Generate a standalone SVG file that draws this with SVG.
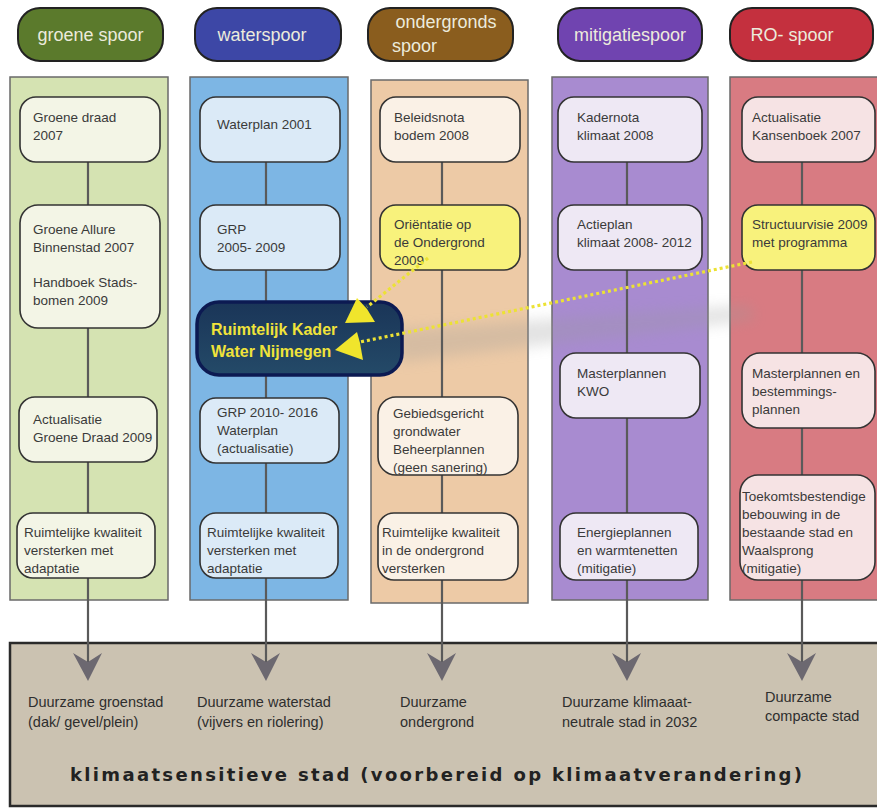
<svg xmlns="http://www.w3.org/2000/svg" width="877" height="808" viewBox="0 0 877 808">
<defs>
<style>
.hdr{stroke:#222;stroke-width:2}
.hdrt{font-family:"Liberation Sans",Arial,sans-serif;font-size:18px;fill:#ecebdc}
.panel{stroke:#6a6a6a;stroke-width:1.5}
.node{stroke:#333;stroke-width:1.6}
.t{font-family:"Liberation Sans",Arial,sans-serif;font-size:13.5px;fill:#3a3a3a}
.bt{font-family:"Liberation Sans",Arial,sans-serif;font-size:14.5px;fill:#2e2e2e}
.ln{stroke:#5a5a5a;stroke-width:2.2;fill:none}
.dot{stroke:#ece234;stroke-width:3.2;stroke-dasharray:3 3;fill:none}
.yarr{fill:#f0e52c}
.garr{fill:#6c6870}
</style>
<linearGradient id="dk" x1="0" y1="0" x2="0" y2="1">
<stop offset="0" stop-color="#1a3558"/>
<stop offset="1" stop-color="#244a68"/>
</linearGradient>
<filter id="blur" x="-20%" y="-80%" width="140%" height="260%"><feGaussianBlur stdDeviation="7"/></filter>
</defs>
<rect width="877" height="808" fill="#fff"/>

<!-- headers -->
<g id="h-groen"><rect class="hdr" x="18" y="8" width="145" height="53" rx="22" fill="#5b7a2c"/><text class="hdrt" x="90.5" y="41" text-anchor="middle">groene spoor</text></g>
<g id="h-water"><rect class="hdr" x="195" y="8" width="146" height="53" rx="22" fill="#3d47a6"/><text class="hdrt" x="262" y="41" text-anchor="middle">waterspoor</text></g>
<g id="h-onder"><rect class="hdr" x="368" y="8" width="145" height="53" rx="22" fill="#8a5d1e"/><text class="hdrt" x="446" y="28" text-anchor="middle">ondergronds</text><text class="hdrt" x="392" y="52">spoor</text></g>
<g id="h-mitig"><rect class="hdr" x="558" y="8" width="144" height="53" rx="22" fill="#7044b0"/><text class="hdrt" x="630" y="41" text-anchor="middle">mitigatiespoor</text></g>
<g id="h-ro"><rect class="hdr" x="730" y="8" width="143" height="53" rx="22" fill="#c4303e"/><text class="hdrt" x="792" y="41" text-anchor="middle">RO- spoor</text></g>

<!-- column panels -->
<g id="panels">
<rect class="panel" x="10" y="77" width="158" height="523" fill="#d5e3b2"/>
<rect class="panel" x="190" y="77" width="158" height="523" fill="#7db6e4"/>
<rect class="panel" x="371" y="80" width="157" height="523" fill="#edcaa6"/>
<rect class="panel" x="552" y="77" width="156" height="523" fill="#a88bd0"/>
<rect class="panel" x="730" y="77" width="150" height="523" fill="#d87b82"/>
</g>

<!-- bottom panel -->
<g id="bottom">
<rect x="10" y="643" width="870" height="163" fill="#cbc2b1" stroke="#2a2a2a" stroke-width="2.5"/>
<text class="bt" x="28" y="707">Duurzame groenstad</text>
<text class="bt" x="28" y="727">(dak/ gevel/plein)</text>
<text class="bt" x="197" y="707">Duurzame waterstad</text>
<text class="bt" x="197" y="727">(vijvers en riolering)</text>
<text class="bt" x="400" y="707">Duurzame</text>
<text class="bt" x="400" y="727">ondergrond</text>
<text class="bt" x="562" y="707">Duurzame klimaaat-</text>
<text class="bt" x="562" y="727">neutrale stad in 2032</text>
<text class="bt" x="765" y="702">Duurzame</text>
<text class="bt" x="765" y="721">compacte stad</text>
<text x="70" y="781" textLength="732" lengthAdjust="spacing" style="font-family:'DejaVu Sans',Verdana,sans-serif;font-size:18px;font-weight:bold;fill:#222">klimaatsensitieve stad (voorbereid op klimaatverandering)</text>
</g>

<!-- shadow under the dark box / dotted line -->
<path d="M395,330 L750,305 L755,320 L400,362 Z" fill="#9a9a9a" opacity="0.28" filter="url(#blur)"/>

<!-- connectors -->
<g id="connectors">
<path class="ln" d="M88,162V205M88,328V397M88,462V513M88,578V664"/>
<path class="ln" d="M266,162V205M266,270V302M266,375V398M266,463V513M266,578V664"/>
<path class="ln" d="M442,162V205M442,270V397M442,475V513M442,580V664"/>
<path class="ln" d="M627,162V205M627,270V353M627,418V513M627,580V664"/>
<path class="ln" d="M802,162V205M802,270V353M802,428V475M802,580V664"/>
<path class="garr" d="M88,681 L73,653 L88,662 L102,653 Z"/>
<path class="garr" d="M266,681 L251,653 L266,662 L280,653 Z"/>
<path class="garr" d="M442,681 L427,653 L442,662 L456,653 Z"/>
<path class="garr" d="M627,681 L612,653 L627,662 L641,653 Z"/>
<path class="garr" d="M802,681 L787,653 L802,662 L816,653 Z"/>
</g>

<!-- green nodes -->
<g id="n-groene-draad"><rect class="node" x="20" y="97" width="140" height="65" rx="16" fill="#f3f5e6"/><text class="t" x="33" y="122">Groene draad</text><text class="t" x="33" y="140">2007</text></g>
<g id="n-groene-allure"><rect class="node" x="20" y="205" width="140" height="123" rx="18" fill="#f3f5e6"/><text class="t" x="33" y="234">Groene Allure</text><text class="t" x="33" y="252">Binnenstad 2007</text><text class="t" x="33" y="287">Handboek Stads-</text><text class="t" x="33" y="305">bomen 2009</text></g>
<g id="n-act-groen"><rect class="node" x="19" y="397" width="138" height="65" rx="16" fill="#f3f5e6"/><text class="t" x="33" y="424">Actualisatie</text><text class="t" x="33" y="442">Groene Draad 2009</text></g>
<g id="n-rk-groen"><rect class="node" x="17" y="513" width="138" height="65" rx="16" fill="#f3f5e6"/><text class="t" x="24" y="537">Ruimtelijke kwaliteit</text><text class="t" x="24" y="555">versterken met</text><text class="t" x="24" y="573">adaptatie</text></g>

<!-- blue nodes -->
<g id="n-waterplan"><rect class="node" x="200" y="97" width="140" height="65" rx="16" fill="#dbeaf7"/><text class="t" x="217" y="129">Waterplan 2001</text></g>
<g id="n-grp"><rect class="node" x="200" y="205" width="140" height="65" rx="16" fill="#dbeaf7"/><text class="t" x="217" y="234">GRP</text><text class="t" x="217" y="252">2005- 2009</text></g>
<g id="n-grp2010"><rect class="node" x="200" y="398" width="139" height="65" rx="16" fill="#dbeaf7"/><text class="t" x="217" y="417">GRP 2010- 2016</text><text class="t" x="217" y="435">Waterplan</text><text class="t" x="217" y="453">(actualisatie)</text></g>
<g id="n-rk-water"><rect class="node" x="200" y="513" width="138" height="65" rx="16" fill="#dbeaf7"/><text class="t" x="207" y="537">Ruimtelijke kwaliteit</text><text class="t" x="207" y="555">versterken met</text><text class="t" x="207" y="573">adaptatie</text></g>

<!-- brown nodes -->
<g id="n-beleidsnota"><rect class="node" x="380" y="97" width="140" height="65" rx="16" fill="#faf1e6"/><text class="t" x="394" y="122">Beleidsnota</text><text class="t" x="394" y="140">bodem 2008</text></g>
<g id="n-orientatie"><rect class="node" x="380" y="205" width="140" height="65" rx="16" fill="#f8f27c"/><text class="t" x="394" y="229">Oriëntatie op</text><text class="t" x="394" y="247">de Ondergrond</text><text class="t" x="394" y="265">2009</text></g>
<g id="n-gebied"><rect class="node" x="378" y="397" width="140" height="78" rx="18" fill="#faf1e6"/><text class="t" x="393" y="418">Gebiedsgericht</text><text class="t" x="393" y="436">grondwater</text><text class="t" x="393" y="454">Beheerplannen</text><text class="t" x="393" y="472">(geen sanering)</text></g>
<g id="n-rk-onder"><rect class="node" x="378" y="513" width="140" height="67" rx="16" fill="#faf1e6"/><text class="t" x="382" y="537">Ruimtelijke kwaliteit</text><text class="t" x="382" y="555">in de ondergrond</text><text class="t" x="382" y="573">versterken</text></g>

<!-- purple nodes -->
<g id="n-kadernota"><rect class="node" x="558" y="97" width="144" height="65" rx="16" fill="#eee8f4"/><text class="t" x="577" y="122">Kadernota</text><text class="t" x="577" y="140">klimaat 2008</text></g>
<g id="n-actieplan"><rect class="node" x="558" y="205" width="144" height="65" rx="16" fill="#eee8f4"/><text class="t" x="577" y="229">Actieplan</text><text class="t" x="577" y="247">klimaat 2008- 2012</text></g>
<g id="n-kwo"><rect class="node" x="560" y="353" width="140" height="65" rx="16" fill="#eee8f4"/><text class="t" x="577" y="378">Masterplannen</text><text class="t" x="577" y="396">KWO</text></g>
<g id="n-energie"><rect class="node" x="560" y="513" width="138" height="67" rx="16" fill="#eee8f4"/><text class="t" x="577" y="537">Energieplannen</text><text class="t" x="577" y="555">en warmtenetten</text><text class="t" x="577" y="573">(mitigatie)</text></g>

<!-- red nodes -->
<g id="n-kansenboek"><rect class="node" x="742" y="97" width="133" height="65" rx="16" fill="#f6e3e4"/><text class="t" x="752" y="122">Actualisatie</text><text class="t" x="752" y="140">Kansenboek 2007</text></g>
<g id="n-structuurvisie"><rect class="node" x="742" y="205" width="133" height="65" rx="16" fill="#f8f27c"/><text class="t" x="752" y="229">Structuurvisie 2009</text><text class="t" x="752" y="247">met programma</text></g>
<g id="n-masterplannen"><rect class="node" x="742" y="353" width="133" height="75" rx="18" fill="#f6e3e4"/><text class="t" x="752" y="378">Masterplannen en</text><text class="t" x="752" y="396">bestemmings-</text><text class="t" x="752" y="414">plannen</text></g>
<g id="n-toekomst"><rect class="node" x="740" y="475" width="135" height="105" rx="18" fill="#f6e3e4"/><text class="t" x="742" y="501">Toekomtsbestendige</text><text class="t" x="742" y="519">bebouwing in de</text><text class="t" x="742" y="537">bestaande stad en</text><text class="t" x="742" y="555">Waalsprong</text><text class="t" x="742" y="573">(mitigatie)</text></g>

<!-- highlighted node -->
<g id="n-ruimtelijk-kader"><rect x="197" y="302" width="205" height="73" rx="22" fill="url(#dk)" stroke="#0c1a52" stroke-width="3.5"/><text x="211" y="335" style="font-family:'Liberation Sans',Arial,sans-serif;font-size:16px;font-weight:bold;fill:#f0e33a">Ruimtelijk Kader</text><text x="211" y="357" style="font-family:'Liberation Sans',Arial,sans-serif;font-size:16px;font-weight:bold;fill:#f0e33a">Water Nijmegen</text></g>

<!-- dotted yellow connectors -->
<g id="dotted-connectors">
<path class="dot" d="M428,258 L367,307"/>
<path class="yarr" d="M345,323 L357,298 L367,309 L375,322 Z"/>
<path class="dot" d="M752,262 L360,342"/>
<path class="yarr" d="M335,350 L357,332 L360,343 L363,360 Z"/>
</g>
</svg>
